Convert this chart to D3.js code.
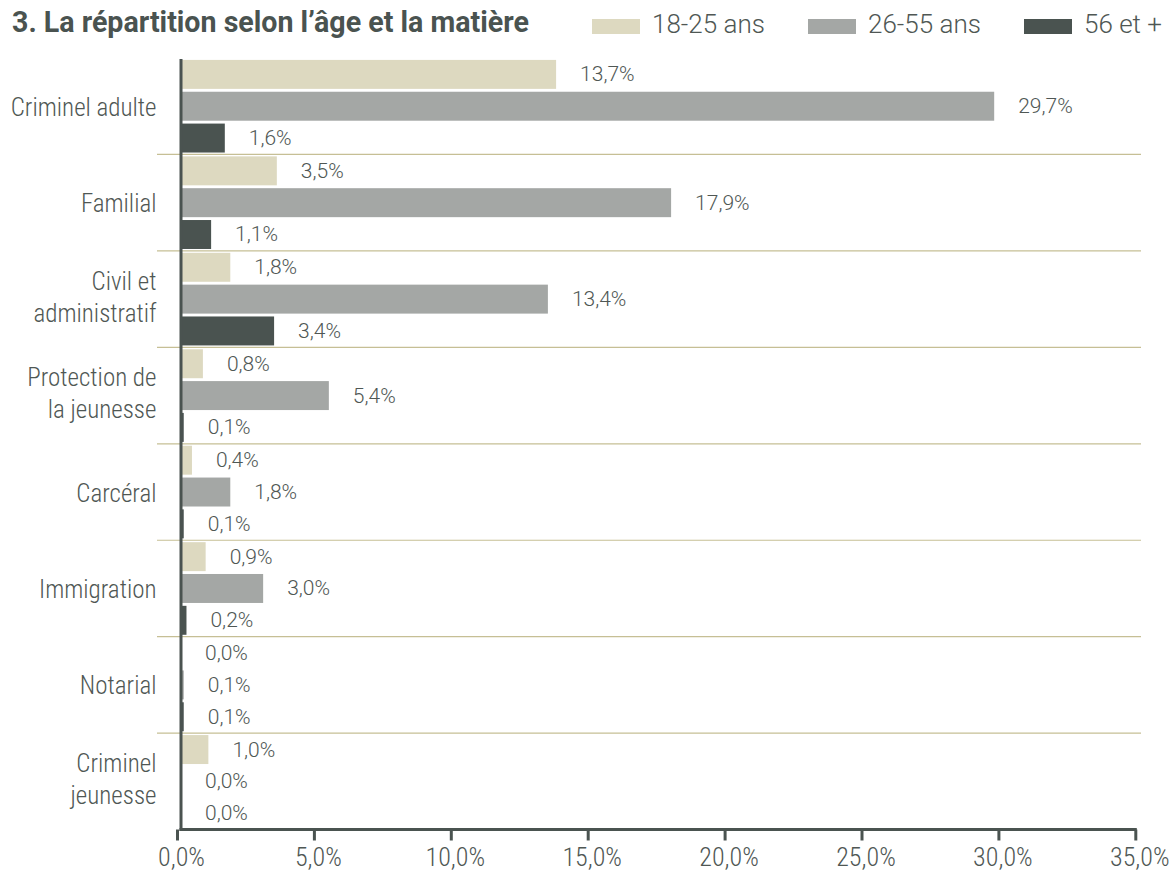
<!DOCTYPE html>
<html>
<head>
<meta charset="utf-8">
<script src="https://cdn.jsdelivr.net/npm/d3@7"></script>
<style>
  body { margin: 0; background: #fff; }
  #chart { width: 1173px; height: 871px; }
  .cat { font-family: "Roboto Condensed", "Liberation Sans Narrow", "DejaVu Sans Condensed", sans-serif; font-weight: 300; font-size: 25px; fill: #4f5754; }
  .tick text { font-family: "Roboto Condensed", "Liberation Sans Narrow", "DejaVu Sans Condensed", sans-serif; font-weight: 300; font-size: 26px; fill: #4f5754; }
  .val { font-family: Roboto, sans-serif; font-weight: 300; font-size: 21px; fill: #4f5754; }
  .legend text { font-family: Roboto, sans-serif; font-weight: 300; font-size: 26px; fill: #4f5754; }
  .title { font-family: Roboto, sans-serif; font-weight: 700; font-size: 28.6px; fill: #4a5350; }
</style>
</head>
<body>
<div id="chart"></div>
<script>
var App = App || {};

// data (percent)
const categories = ["Criminel adulte", "Familial", "Civil et administratif", "Protection de la jeunesse",
  "Carcéral", "Immigration", "Notarial", "Criminel jeunesse"];
const categoryLines = [["Criminel adulte"], ["Familial"], ["Civil et", "administratif"], ["Protection de", "la jeunesse"],
  ["Carcéral"], ["Immigration"], ["Notarial"], ["Criminel", "jeunesse"]];
const seriesNames = ["18-25 ans", "26-55 ans", "56 et +"];
const age18_25 = [13.7, 3.5, 1.8, 0.8, 0.4, 0.9, 0.0, 1.0];
const age26_55 = [29.7, 17.9, 13.4, 5.4, 1.8, 3.0, 0.1, 0.0];
const age56plus = [1.6, 1.1, 3.4, 0.1, 0.1, 0.2, 0.1, 0.0];
const tickValues = [0, 5, 10, 15, 20, 25, 30, 35];
const colors = ["#ddd9c0", "#a4a7a5", "#4a5350"];

(function() {
  let svg, x, y, yInner;

  App.init = function() {
    const width = 1173, height = 871;
    const series = [age18_25, age26_55, age56plus];
    const fr = d3.formatLocale({ decimal: ",", thousands: " ", grouping: [3], currency: ["", " €"] });
    const pct = v => fr.format(".1f")(v) + "%";

    svg = d3.select("#chart").append("svg")
      .attr("width", width)
      .attr("height", height);

    x = d3.scaleLinear().domain([0, 35]).range([181, 1139.3]);
    y = d3.scaleBand().domain(categories).range([58, 829.6]).padding(0);
    yInner = d3.scaleBand().domain(d3.range(series.length)).range([0, y.bandwidth()])
      .paddingInner(0.09).paddingOuter(0.06);

    // title + legend
    svg.append("text")
      .attr("class", "title")
      .attr("x", 12)
      .attr("y", 32)
      .text("3. La répartition selon l’âge et la matière");

    const legendX = [592, 808, 1024];
    const legend = svg.append("g").attr("class", "legend")
      .selectAll("g")
      .data(seriesNames)
      .enter().append("g")
      .attr("transform", (d, i) => "translate(" + legendX[i] + ",0)");
    legend.append("rect")
      .attr("x", 0).attr("y", 19)
      .attr("width", 48).attr("height", 15)
      .attr("fill", (d, i) => colors[i]);
    legend.append("text")
      .attr("x", 60).attr("y", 33)
      .text(d => d);

    // separators between groups
    svg.append("g")
      .selectAll("line")
      .data(categories.slice(1))
      .enter().append("line")
      .attr("x1", 157).attr("x2", 1141)
      .attr("y1", d => y(d)).attr("y2", d => y(d))
      .attr("stroke", "#c6bf95")
      .attr("stroke-width", 1.2);

    // bars + value labels
    const groups = svg.append("g")
      .selectAll("g")
      .data(categories)
      .enter().append("g")
      .attr("transform", d => "translate(0," + y(d) + ")");

    groups.selectAll("rect")
      .data((d, ci) => series.map((s, si) => ({ si: si, v: s[ci] })))
      .enter().append("rect")
      .attr("x", x(0))
      .attr("y", d => yInner(d.si))
      .attr("width", d => x(d.v) - x(0))
      .attr("height", yInner.bandwidth())
      .attr("fill", d => colors[d.si]);

    groups.selectAll("text.val")
      .data((d, ci) => series.map((s, si) => ({ si: si, v: s[ci] })))
      .enter().append("text")
      .attr("class", "val")
      .attr("x", d => x(d.v) + 24)
      .attr("y", d => yInner(d.si) + yInner.bandwidth() / 2 + 7)
      .text(d => pct(d.v));

    // category labels
    const cats = svg.append("g")
      .selectAll("text")
      .data(categories)
      .enter().append("text")
      .attr("class", "cat")
      .attr("text-anchor", "end");
    cats.each(function(d, i) {
      const lines = categoryLines[i];
      const c = y(d) + y.bandwidth() / 2;
      const t = d3.select(this);
      lines.forEach((l, k) => {
        const yy = lines.length === 1 ? c + 9.5 : (k === 0 ? c - 9.5 : c + 22.5);
        t.append("tspan").attr("x", 156.5).attr("y", yy).text(l);
      });
    });

    // bottom axis
    const xAxis = d3.axisBottom(x)
      .tickValues(tickValues)
      .tickFormat(pct)
      .tickSizeInner(11)
      .tickSizeOuter(0);

    const ax = svg.append("g")
      .attr("transform", "translate(0,829.5)")
      .call(xAxis);
    ax.select(".domain").remove();
    ax.selectAll(".tick line")
      .attr("x1", -4).attr("x2", -4)
      .attr("stroke", "#4a5350")
      .attr("stroke-width", 3);
    ax.selectAll(".tick text")
      .attr("y", 36)
      .attr("dy", null);

    svg.append("line")
      .attr("x1", x(0) - 1.5).attr("x2", x(35) - 2.5)
      .attr("y1", 829.5).attr("y2", 829.5)
      .attr("stroke", "#4a5350")
      .attr("stroke-width", 3);

    // vertical axis line
    svg.append("line")
      .attr("x1", x(0)).attr("x2", x(0))
      .attr("y1", 59).attr("y2", 831)
      .attr("stroke", "#4a5350")
      .attr("stroke-width", 3);
  };
})();

App.init();
</script>
</body>
</html>
